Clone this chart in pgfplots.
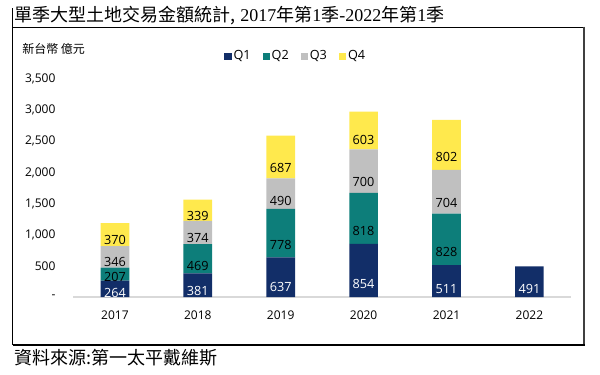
\documentclass[border=0pt]{standalone}
\usepackage{fontspec}
\setmainfont{Open Sans}
\newfontfamily\cjk{Noto Sans CJK TC}
\newfontfamily\ser{Liberation Serif}
\usepackage{pgfplots}
\usepackage{pgfplotstable}
\pgfplotsset{compat=1.18}
\definecolor{qone}{HTML}{122E68}
\definecolor{qtwo}{HTML}{0D7E7A}
\definecolor{qthree}{HTML}{C0C0C0}
\definecolor{qfour}{HTML}{FFE94D}
\pgfplotstableread{
x v
0 264
1 381
2 637
3 854
4 511
5 491
}\qone
\pgfplotstableread{
x v
0 207
1 469
2 778
3 818
4 828
}\qtwo
\pgfplotstableread{
x v
0 346
1 374
2 490
3 700
4 704
}\qthree
\pgfplotstableread{
x v
0 370
1 339
2 687
3 603
4 802
}\qfour
\def\px{0.75pt}
\begin{document}
\begin{tikzpicture}
\path[use as bounding box] (0,0) rectangle (600*\px,-375*\px);
% frame
\draw[black,line width=0.8pt] (12.5*\px,-8*\px) -- (12.5*\px,-345*\px);
\draw[black,line width=0.6pt] (12.5*\px,-27*\px) -- (584*\px,-27*\px);
\draw[black!75,line width=1.6pt] (584*\px,-26.5*\px) -- (584*\px,-345.5*\px);
\draw[black,line width=1.1pt] (12.5*\px,-345*\px) -- (584.8*\px,-345*\px);
% title
\node[anchor=west,inner sep=0pt,font=\fontsize{13.5}{15}\selectfont] at (14.5*\px,-16*\px)
 {\cjk 單季大型土地交易金額統計,\ser{} 2017\cjk 年第\ser 1\cjk 季\ser -2022\cjk 年第\ser 1\cjk 季};
% footer
\node[anchor=west,inner sep=0pt,font=\fontsize{13.5}{15}\selectfont] at (14.5*\px,-358*\px)
 {\cjk 資料來源:第一太平戴維斯};
% y unit label
\node[anchor=west,inner sep=0pt,font=\fontsize{9}{10}\selectfont] at (22*\px,-49*\px)
 {\cjk 新台幣 億元};
\begin{axis}[
  at={(73.5*\px,-297*\px)}, anchor=south west,
  scale only axis,
  width=373pt, height=163.5pt,
  xmin=-0.5, xmax=5.5, ymin=0, ymax=3500,
  ybar stacked, bar width=21.5pt,
  axis x line=bottom, axis y line=left,
  x axis line style={draw=black!15,line width=0.8pt,-},
  y axis line style={draw=none},
  major tick length=0pt,
  /pgf/number format/assume math mode=true,
  xtick={0,1,2,3,4,5},
  xticklabels={2017,2018,2019,2020,2021,2022},
  ytick={0,500,1000,1500,2000,2500,3000,3500},
  yticklabels={{-\hspace{5.5pt}},500,{1,000},{1,500},{2,000},{2,500},{3,000},{3,500}},
  tick label style={font=\fontsize{9}{10}\selectfont},
  xticklabel style={yshift=-7pt},
  yticklabel style={anchor=east,xshift=-10pt},
  clip=false,
  point meta=explicit,
  nodes near coords={\pgfmathprintnumber{\pgfplotspointmeta}},
  visualization depends on={\thisrow{v} \as \segv},
  every node near coord/.append style={anchor=center,yshift={-0.0116785pt*\segv},font=\fontsize{9.5}{10}\selectfont,inner sep=0pt},
  legend columns=4,
  legend style={at={(0.447,1.105)},anchor=center,draw=none,fill=none,inner sep=0pt,
    font=\fontsize{9.5}{10}\selectfont,
    nodes={inner sep=1.5pt},
    /tikz/every even column/.append style={column sep=7.5pt}},
  legend image code/.code={\fill[#1,draw=none] (0pt,-2.6pt) rectangle (5.3pt,2.6pt);},
]
\addplot[fill=qone,draw=none,every node near coord/.append style={text=white}] table[x=x,y=v,meta=v]{\qone};
\addplot[fill=qtwo,draw=none,every node near coord/.append style={text=black}] table[x=x,y=v,meta=v]{\qtwo};
\addplot[fill=qthree,draw=none,every node near coord/.append style={text=black}] table[x=x,y=v,meta=v]{\qthree};
\addplot[fill=qfour,draw=none,every node near coord/.append style={text=black}] table[x=x,y=v,meta=v]{\qfour};
\legend{Q1,Q2,Q3,Q4}
\end{axis}
\end{tikzpicture}
\end{document}
